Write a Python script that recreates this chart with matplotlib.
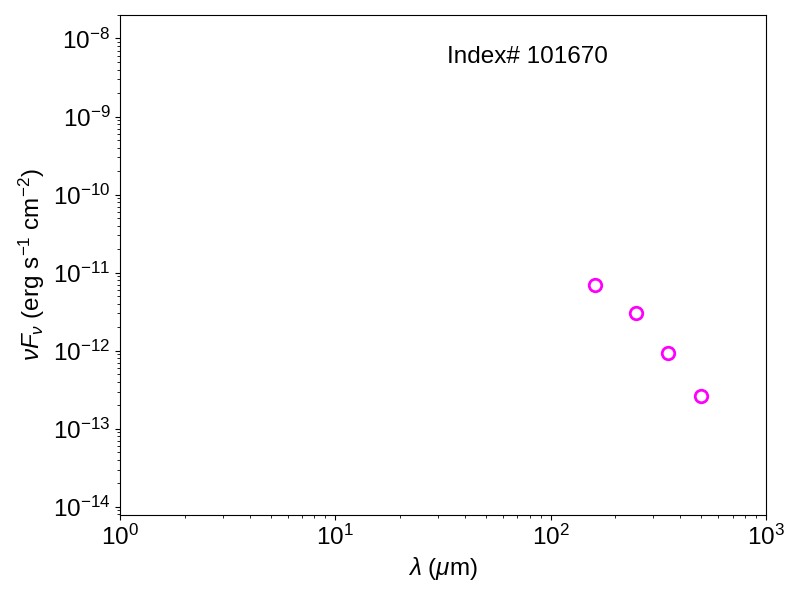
import matplotlib
matplotlib.use('Agg')
import matplotlib.pyplot as plt

plt.rcParams['font.family'] = ['Liberation Sans', 'DejaVu Sans']
plt.rcParams['mathtext.fontset'] = 'custom'
plt.rcParams['mathtext.rm'] = 'Liberation Sans'
plt.rcParams['mathtext.it'] = 'Liberation Sans:italic'
plt.rcParams['mathtext.bf'] = 'Liberation Sans:bold'

# Herschel-like photometry points
wave = [160, 250, 350, 500]  # micron
nufnu = [6.95e-12, 3.04e-12, 9.3e-13, 2.6e-13]  # erg s-1 cm-2
label = 'Index# 101670'

fig = plt.figure(figsize=(8, 6), dpi=100)
ax = fig.add_axes([0.15, 0.142, 0.8075, 0.833])

ax.plot(wave, nufnu, 'o', mfc='none', mec='magenta', mew=2, ms=9)
ax.set_xscale('log')
ax.set_yscale('log')
ax.set_xlim(1, 1000)
ax.set_ylim(7.9e-15, 2.0e-8)

ax.set_xlabel(r'$\lambda$ ($\mu$m)', fontsize=17.5)
ax.set_ylabel(r'$\nu F_\nu$ (erg s$^{-1}$ cm$^{-2}$)', fontsize=17.5)
ax.tick_params(labelsize=17.5)
ax.text(0.63, 0.916, label, transform=ax.transAxes, ha='center', va='center', fontsize=17.5)

fig.savefig('out.png', dpi=100)
